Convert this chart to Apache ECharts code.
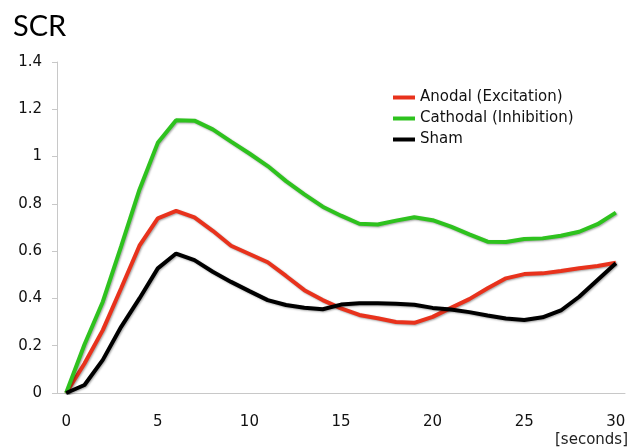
<!DOCTYPE html>
<html>
<head>
<meta charset="utf-8">
<script src="https://cdn.jsdelivr.net/npm/echarts@6/dist/echarts.min.js"></script>
<style>html,body{margin:0;padding:0;background:#fff}#c{width:632px;height:448px}</style>
</head>
<body>
<div id="c"></div>
<script>
const seconds = [0,1,2,3,4,5,6,7,8,9,10,11,12,13,14,15,16,17,18,19,20,21,22,23,24,25,26,27,28,29,30];
const anodal = [0,0.125,0.266,0.443,0.623,0.739,0.77,0.743,0.686,0.623,0.588,0.553,0.495,0.435,0.393,0.358,0.33,0.316,0.30,0.297,0.322,0.36,0.397,0.443,0.485,0.503,0.506,0.516,0.528,0.537,0.551];
const cathodal = [0,0.205,0.386,0.62,0.86,1.058,1.154,1.152,1.115,1.063,1.013,0.96,0.896,0.84,0.788,0.75,0.716,0.713,0.729,0.743,0.731,0.704,0.671,0.64,0.639,0.651,0.654,0.665,0.682,0.714,0.763];
const sham = [0,0.034,0.14,0.28,0.40,0.527,0.59,0.562,0.513,0.47,0.431,0.393,0.372,0.361,0.354,0.374,0.38,0.38,0.377,0.373,0.36,0.353,0.342,0.328,0.315,0.309,0.32,0.349,0.407,0.478,0.549];
const names = ['Anodal (Excitation)','Cathodal (Inhibition)','Sham'];
const colors = ['#e8321c','#2ec21e','#000000'];

const chart = echarts.init(document.getElementById('c'));
const mk = (name, data, color) => ({
  name, type:'line', data, showSymbol:false, symbol:'none', smooth:false,
  color,
  lineStyle:{width:4, color, shadowColor:'rgba(0,0,0,0.35)', shadowBlur:2, shadowOffsetX:1, shadowOffsetY:1}
});
chart.setOption({
  animation:false,
  title:[
    {text:'SCR', left:8, top:7, textStyle:{fontFamily:'Lato', fontWeight:'normal', fontSize:29, color:'#000'}},
    {text:'[seconds]', right:4, top:433, padding:0, textStyle:{fontFamily:'DejaVu Sans', fontWeight:'normal', fontSize:15, color:'#222'}}
  ],
  legend:{
    orient:'vertical', left:388, top:85, itemWidth:22, itemHeight:4, itemGap:6, icon:'rect',
    textStyle:{fontFamily:'DejaVu Sans', fontSize:15, color:'#111', padding:[0,0,0,0]},
    data:names
  },
  grid:{left:57, right:7, top:62, bottom:55},
  xAxis:{
    type:'category', data:seconds, boundaryGap:true,
    axisLine:{lineStyle:{color:'#c8c8c8'}},
    axisTick:{interval:0, length:5, lineStyle:{color:'#c8c8c8'}},
    axisLabel:{interval:4, margin:22, fontFamily:'DejaVu Sans', fontSize:15, color:'#111'}
  },
  yAxis:{
    type:'value', min:0, max:1.4, interval:0.2,
    splitLine:{show:false},
    axisLine:{show:true, lineStyle:{color:'#c8c8c8'}},
    axisTick:{show:true, length:5, lineStyle:{color:'#c8c8c8'}},
    axisLabel:{margin:15, fontFamily:'DejaVu Sans', fontSize:15, color:'#111', formatter:v=>String(+v.toFixed(1))}
  },
  series:[mk(names[0],anodal,colors[0]), mk(names[1],cathodal,colors[1]), mk(names[2],sham,colors[2])]
});
</script>
</body>
</html>
